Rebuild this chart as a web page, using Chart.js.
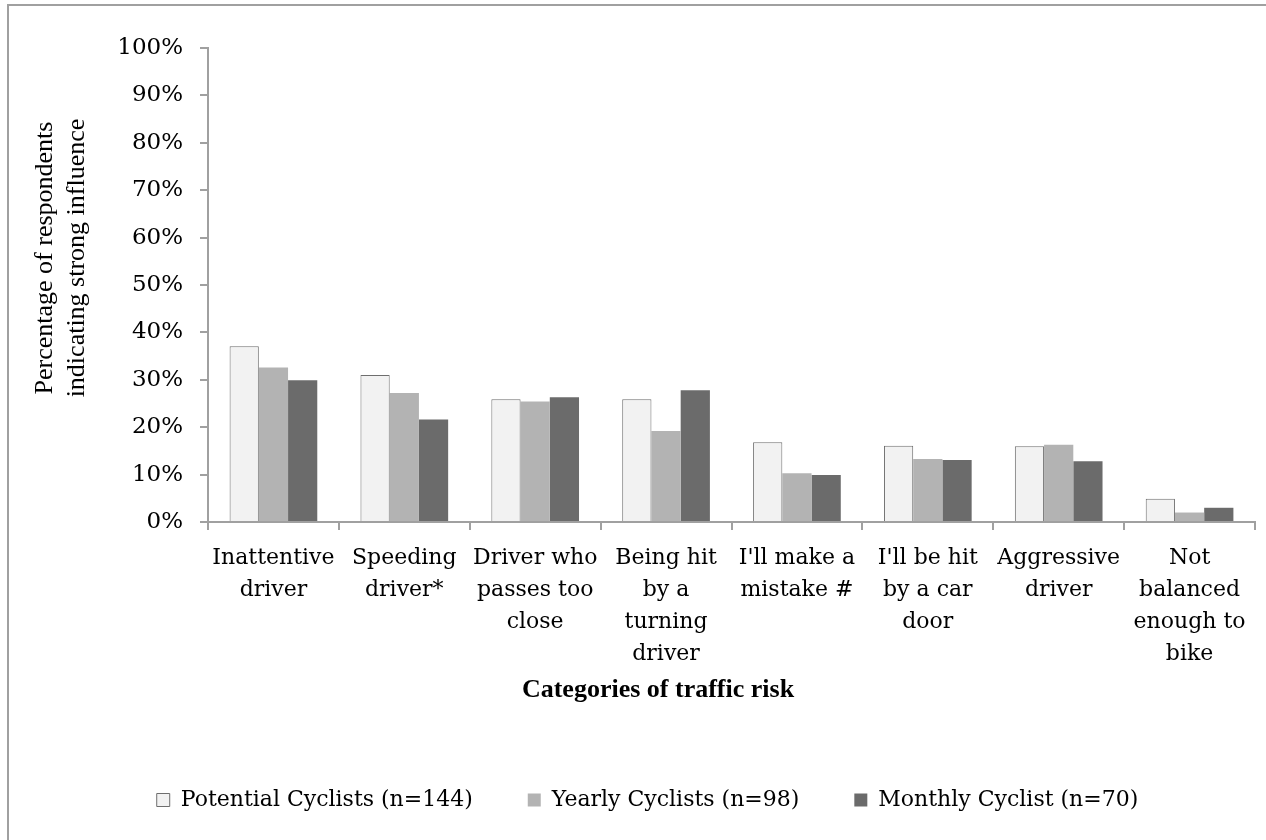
<!DOCTYPE html>
<html>
<head>
<meta charset="utf-8">
<script src="https://cdn.jsdelivr.net/npm/chart.js@4.4.1/dist/chart.umd.min.js"></script>
<style>
  html, body { margin: 0; padding: 0; background: #fff; }
  #wrap { width: 1266px; height: 840px; }
</style>
</head>
<body>
<div id="wrap"><canvas id="riskChart" width="1266" height="840"></canvas></div>
<script>
// values (% of respondents)
const categories = [
  ["Inattentive", "driver"],
  ["Speeding", "driver*"],
  ["Driver who", "passes too", "close"],
  ["Being hit", "by a", "turning", "driver"],
  ["I'll make a", "mistake #"],
  ["I'll be hit", "by a car", "door"],
  ["Aggressive", "driver"],
  ["Not", "balanced", "enough to", "bike"]
];
const potentialCyclists = [37.1, 31.0, 25.9, 25.9, 16.8, 16.1, 16.0, 4.9];
const yearlyCyclists = [32.6, 27.2, 25.4, 19.2, 10.3, 13.3, 16.3, 2.0];
const monthlyCyclists = [29.9, 21.6, 26.3, 27.8, 9.9, 13.1, 12.8, 3.0];
const seriesNames = ["Potential Cyclists (n=144)", "Yearly Cyclists (n=98)", "Monthly Cyclist (n=70)"];
const yTitle = ["Percentage of respondents", "indicating strong influence"];
const xTitle = "Categories of traffic risk";

const axisGray = "#a0a0a0";
const serif = "'DejaVu Serif', serif";
const legendGap = 55;

// frame + axis titles drawn on the canvas
const frameAndTitles = {
  id: "frameAndTitles",
  beforeDraw(chart) {
    const ctx = chart.ctx;
    ctx.save();
    ctx.fillStyle = "#fff";
    ctx.fillRect(0, 0, chart.width, chart.height);
    ctx.strokeStyle = axisGray;
    ctx.lineWidth = 2;
    ctx.strokeRect(8, 5, chart.width + 40, chart.height + 40);
    ctx.restore();
  },
  afterDraw(chart) {
    const ctx = chart.ctx;
    ctx.save();
    ctx.fillStyle = "#000";
    ctx.textAlign = "center";
    ctx.textBaseline = "middle";

    ctx.font = "26px 'Liberation Serif', serif";
    ctx.translate(45, 258);
    ctx.rotate(-Math.PI / 2);
    ctx.fillText(yTitle[0], 0, 0);
    ctx.fillText(yTitle[1], 0, 32);
    ctx.setTransform(1, 0, 0, 1, 0, 0);

    ctx.font = "bold 26px 'Liberation Serif', serif";
    ctx.fillText(xTitle, 658, 690);
    ctx.restore();
  }
};

const ctx = document.getElementById("riskChart").getContext("2d");

new Chart(ctx, {
  type: "bar",
  data: {
    labels: categories,
    datasets: [
      {
        label: seriesNames[0],
        data: potentialCyclists,
        backgroundColor: "#f2f2f2",
        borderColor: "#6e6e6e",
        borderWidth: 1
      },
      {
        label: seriesNames[1],
        data: yearlyCyclists,
        backgroundColor: "#b3b3b3",
        borderColor: "#b3b3b3",
        borderWidth: 0
      },
      {
        label: seriesNames[2],
        data: monthlyCyclists,
        backgroundColor: "#6b6b6b",
        borderColor: "#6b6b6b",
        borderWidth: 0
      }
    ]
  },
  options: {
    responsive: false,
    animation: false,
    devicePixelRatio: 1,
    layout: { padding: { top: 48, right: 11, bottom: 19, left: 40 } },
    datasets: {
      bar: { categoryPercentage: 0.67, barPercentage: 1.0 }
    },
    scales: {
      x: {
        grid: { drawOnChartArea: false, color: axisGray, lineWidth: 2, tickLength: 8 },
        border: { color: axisGray, width: 2 },
        ticks: {
          color: "#000",
          font: { family: serif, size: 22, lineHeight: 32 / 22 },
          padding: 12,
          maxRotation: 0,
          autoSkip: false
        },
        // legend top = 789 - gap, plot bottom should sit at y = 522
        afterFit(scale) { scale.height = 267 - legendGap; }
      },
      y: {
        min: 0,
        max: 100,
        grid: { drawOnChartArea: false, color: axisGray, lineWidth: 2, tickLength: 8 },
        border: { color: axisGray, width: 2 },
        ticks: {
          stepSize: 10,
          color: "#000",
          font: { family: serif, size: 23 },
          padding: 17,
          callback: (v) => v + "%"
        },
        afterFit(scale) { scale.width = 168; }
      }
    },
    plugins: {
      title: { display: false },
      tooltip: { enabled: false },
      legend: {
        position: "bottom",
        labels: {
          color: "#000",
          font: { family: serif, size: 22 },
          boxWidth: 13,
          boxHeight: 13,
          padding: legendGap
        }
      }
    }
  },
  plugins: [frameAndTitles]
});
</script>
</body>
</html>
